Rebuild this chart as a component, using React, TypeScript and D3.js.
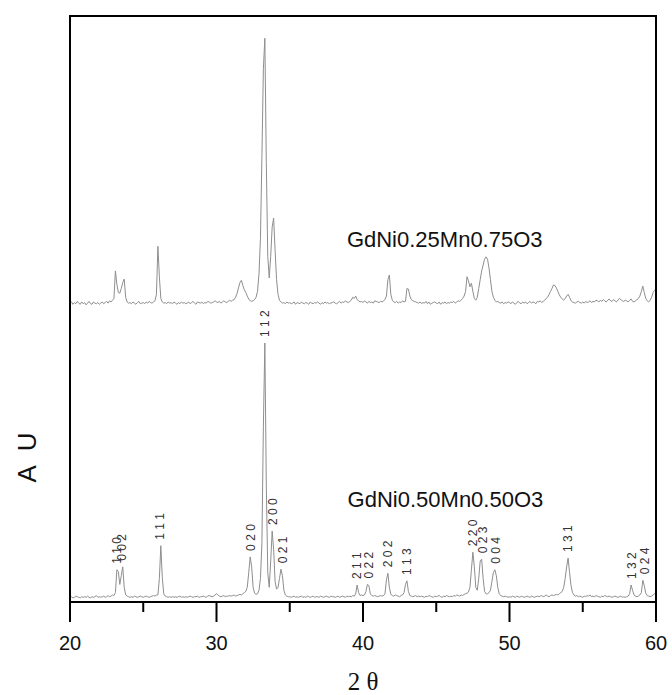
import { useEffect, useRef } from "react"
import * as d3 from "d3"

// 2 theta grid: 20 -> 60, step 0.1
const thetaStart = 20
const thetaStep = 0.1

// GdNi0.50Mn0.50O3 (lower trace), counts
const lowerPattern = [
  8, 9, 7, 8, 10, 9, 8, 7, 9, 8,
  9, 8, 10, 8, 7, 9, 8, 9, 11, 8,
  9, 8, 9, 10, 8, 9, 11, 9, 10, 12,
  11, 16, 55, 52, 30, 45, 60, 25, 12, 10,
  9, 8, 9, 8, 10, 9, 8, 9, 10, 9,
  8, 9, 10, 9, 8, 9, 10, 11, 10, 12,
  12, 40, 96, 42, 14, 10, 9, 8, 9, 8,
  9, 8, 9, 8, 9, 10, 8, 9, 8, 9,
  8, 9, 10, 9, 8, 9, 9, 10, 8, 9,
  9, 10, 9, 8, 10, 11, 10, 9, 10, 12,
  14, 12, 10, 9, 10, 11, 9, 10, 10, 11,
  10, 11, 12, 10, 11, 12, 13, 12, 14, 16,
  18, 25, 50, 77, 60, 25, 15, 13, 14, 20,
  40, 100, 300, 442, 200, 50, 25, 70, 121, 90,
  35, 22, 25, 40, 56, 45, 20, 12, 10, 9,
  9, 8, 9, 10, 8, 9, 8, 9, 10, 8,
  9, 8, 10, 9, 8, 9, 10, 8, 9, 9,
  8, 10, 9, 8, 9, 10, 9, 8, 10, 9,
  9, 8, 9, 10, 8, 9, 10, 9, 8, 10,
  9, 10, 9, 11, 10, 14, 29, 16, 11, 12,
  11, 12, 18, 30, 28, 14, 11, 10, 11, 10,
  9, 10, 11, 10, 11, 14, 38, 49, 25, 13,
  11, 10, 12, 11, 10, 9, 11, 12, 16, 30,
  36, 18, 11, 10, 9, 10, 11, 9, 10, 9,
  10, 9, 8, 10, 9, 11, 10, 9, 8, 10,
  9, 10, 11, 9, 8, 10, 9, 11, 10, 9,
  10, 9, 11, 10, 12, 11, 10, 12, 11, 13,
  14, 15, 17, 25, 55, 85, 60, 25, 20, 40,
  70, 73, 40, 18, 14, 14, 16, 20, 35, 50,
  55, 45, 25, 14, 11, 10, 9, 10, 9, 8,
  9, 8, 10, 9, 8, 10, 9, 8, 10, 9,
  8, 9, 10, 9, 8, 10, 9, 8, 9, 10,
  9, 10, 11, 9, 10, 12, 10, 9, 11, 12,
  11, 12, 13, 12, 14, 16, 18, 25, 40, 60,
  75, 50, 28, 16, 12, 10, 11, 9, 10, 9,
  8, 10, 9, 11, 10, 12, 9, 10, 9, 11,
  10, 9, 8, 10, 9, 11, 10, 9, 10, 9,
  8, 9, 10, 9, 8, 9, 10, 8, 9, 8,
  9, 10, 14, 29, 20, 12, 10, 9, 10, 12,
  16, 37, 28, 15, 11, 10, 9, 10, 12, 14,
  13,
]

// GdNi0.25Mn0.75O3 (upper trace), counts
const upperPattern = [
  10, 12, 8, 11, 9, 13, 10, 8, 12, 9,
  11, 7, 10, 13, 9, 8, 12, 10, 9, 11,
  8, 10, 12, 9, 11, 13, 10, 14, 12, 15,
  18, 65, 42, 28, 27, 35, 45, 51, 20, 12,
  10, 11, 9, 12, 10, 8, 11, 13, 9, 10,
  11, 9, 12, 10, 13, 11, 10, 12, 14, 25,
  107, 55, 18, 12, 10, 11, 9, 12, 10, 11,
  9, 12, 10, 8, 11, 9, 12, 10, 11, 9,
  10, 12, 9, 11, 13, 10, 8, 12, 11, 10,
  12, 9, 11, 10, 13, 12, 10, 11, 12, 14,
  12, 11, 13, 10, 12, 14, 12, 11, 13, 15,
  13, 15, 16, 20, 26, 36, 45, 49, 40, 33,
  28, 22, 17, 14, 13, 14, 16, 20, 30, 60,
  120, 260, 410, 462, 250, 90, 53, 90, 140, 155,
  100, 50, 25, 15, 12, 10, 11, 9, 12, 10,
  11, 9, 10, 12, 8, 11, 10, 9, 12, 10,
  9, 11, 10, 8, 12, 10, 9, 11, 10, 12,
  10, 8, 11, 9, 12, 10, 11, 9, 10, 11,
  12, 10, 9, 11, 13, 10, 12, 11, 14, 12,
  11, 13, 15, 20, 18, 22, 16, 14, 12, 13,
  11, 14, 12, 10, 13, 11, 12, 10, 14, 13,
  12, 11, 13, 12, 14, 16, 22, 50, 58, 25,
  15, 12, 11, 13, 10, 12, 11, 14, 12, 13,
  35, 34, 22, 16, 14, 13, 12, 11, 10, 12,
  9, 11, 10, 13, 9, 12, 8, 10, 11, 12,
  10, 9, 12, 8, 11, 10, 12, 9, 11, 10,
  12, 11, 13, 10, 12, 14, 13, 15, 18, 22,
  30, 55, 48, 38, 44, 30, 18, 15, 20, 35,
  50, 65, 75, 85, 89, 85, 70, 50, 30, 20,
  15, 12, 13, 11, 10, 12, 9, 11, 10, 12,
  11, 9, 12, 10, 8, 11, 13, 10, 9, 12,
  10, 12, 9, 11, 13, 10, 12, 11, 9, 13,
  12, 14, 11, 13, 15, 18, 20, 25, 30, 35,
  41, 40, 36, 30, 24, 20, 17, 15, 18, 22,
  25, 20, 14, 12, 11, 10, 12, 13, 11, 10,
  12, 10, 13, 11, 12, 14, 11, 13, 12, 15,
  14, 12, 15, 13, 16, 14, 12, 15, 17, 14,
  13, 16, 14, 12, 15, 18, 16, 14, 13, 15,
  14, 12, 15, 17, 13, 12, 14, 16, 18, 22,
  30, 39, 28, 18, 14, 12, 15, 20, 28, 32,
  30,
]

const seriesNames = ["GdNi0.50Mn0.50O3", "GdNi0.25Mn0.75O3"]
const seriesOffsets = [0, 500]

// Miller indices of the lower trace and where they sit (2 theta)
const hklLabels = ["1 1 0", "0 0 2", "1 1 1", "0 2 0", "1 1 2", "2 0 0", "0 2 1", "2 1 1", "0 2 2",
  "2 0 2", "1 1 3", "2 2 0", "0 2 3", "0 0 4", "1 3 1", "1 3 2", "0 2 4"]
const hklPos = [23.2, 23.5, 26.1, 32.35, 33.3, 33.85, 34.5, 39.6, 40.4,
  41.65, 43.0, 47.5, 48.2, 49.05, 54.0, 58.35, 59.2]

const xTicks = [20, 25, 30, 35, 40, 45, 50, 55, 60]

const W = 672
const H = 695
const margin = { left: 70, right: 16, top: 16, bottom: 93 }
const sans = "'Liberation Sans', Arial, Helvetica, sans-serif"
const serif = "'Liberation Serif', 'Times New Roman', serif"

export default function App() {
  const svgRef = useRef<SVGSVGElement>(null)

  useEffect(() => {
    const svg = d3.select(svgRef.current)
    svg.selectAll("*").remove()

    const x = d3.scaleLinear().domain([20, 60]).range([margin.left, W - margin.right])
    const y = d3.scaleLinear().domain([0, 1000]).range([H - margin.bottom, margin.top])

    const line = d3.line<number>()
      .x((_, i) => x(thetaStart + i * thetaStep))
      .y(d => d)

    const patterns = [lowerPattern, upperPattern]

    // traces
    patterns.forEach((pat, k) => {
      svg.append("path")
        .attr("d", line(pat.map(v => y(v + seriesOffsets[k]))))
        .attr("fill", "none")
        .attr("stroke", "#8e8e8e")
        .attr("stroke-width", 1)
        .attr("stroke-linejoin", "round")
    })

    // frame
    svg.append("rect")
      .attr("x", x(20))
      .attr("y", y(1000))
      .attr("width", x(60) - x(20))
      .attr("height", y(0) - y(1000))
      .attr("fill", "none")
      .attr("stroke", "#000")
      .attr("stroke-width", 2)

    // ticks below the axis
    const gx = svg.append("g")
    xTicks.forEach(t => {
      const major = t % 10 === 0
      gx.append("line")
        .attr("x1", x(t)).attr("x2", x(t))
        .attr("y1", y(0)).attr("y2", y(0) + (major ? 20 : 10))
        .attr("stroke", "#000")
        .attr("stroke-width", 2)
      if (major) {
        gx.append("text")
          .attr("x", x(t))
          .attr("y", y(0) + 48)
          .attr("text-anchor", "middle")
          .attr("font-family", sans)
          .attr("font-size", 20)
          .attr("fill", "#111")
          .text(t)
      }
    })

    svg.append("text")
      .attr("x", x(40))
      .attr("y", H - 5)
      .attr("text-anchor", "middle")
      .attr("font-family", serif)
      .attr("font-size", 25)
      .attr("fill", "#111")
      .text("2 θ")

    svg.append("text")
      .attr("transform", `translate(36,${y(250)}) rotate(-90)`)
      .attr("text-anchor", "middle")
      .attr("font-family", sans)
      .attr("font-size", 26)
      .attr("letter-spacing", 4)
      .attr("fill", "#111")
      .text("A U")

    // sample names
    svg.append("text")
      .attr("x", x(38.9))
      .attr("y", y(606))
      .attr("font-family", sans)
      .attr("font-size", 22)
      .attr("fill", "#111")
      .text(seriesNames[1])
    svg.append("text")
      .attr("x", x(38.95))
      .attr("y", y(162))
      .attr("font-family", sans)
      .attr("font-size", 22)
      .attr("fill", "#111")
      .text(seriesNames[0])

    // hkl labels over the lower trace peaks
    hklLabels.forEach((lab, i) => {
      const p = hklPos[i]
      const near = lowerPattern.filter((_, j) => Math.abs(thetaStart + j * thetaStep - p) <= 0.16)
      const top = y(d3.max(near) ?? 0) - 6
      svg.append("text")
        .attr("transform", `translate(${x(p)},${top}) rotate(-90)`)
        .attr("dy", "0.36em")
        .attr("font-family", sans)
        .attr("font-size", 12)
        .attr("fill", "#333")
        .text(lab)
    })
  }, [])

  return (
    <svg
      ref={svgRef}
      width={W}
      height={H}
      style={{ position: "absolute", left: 0, top: 0, background: "#fff" }}
    />
  )
}
